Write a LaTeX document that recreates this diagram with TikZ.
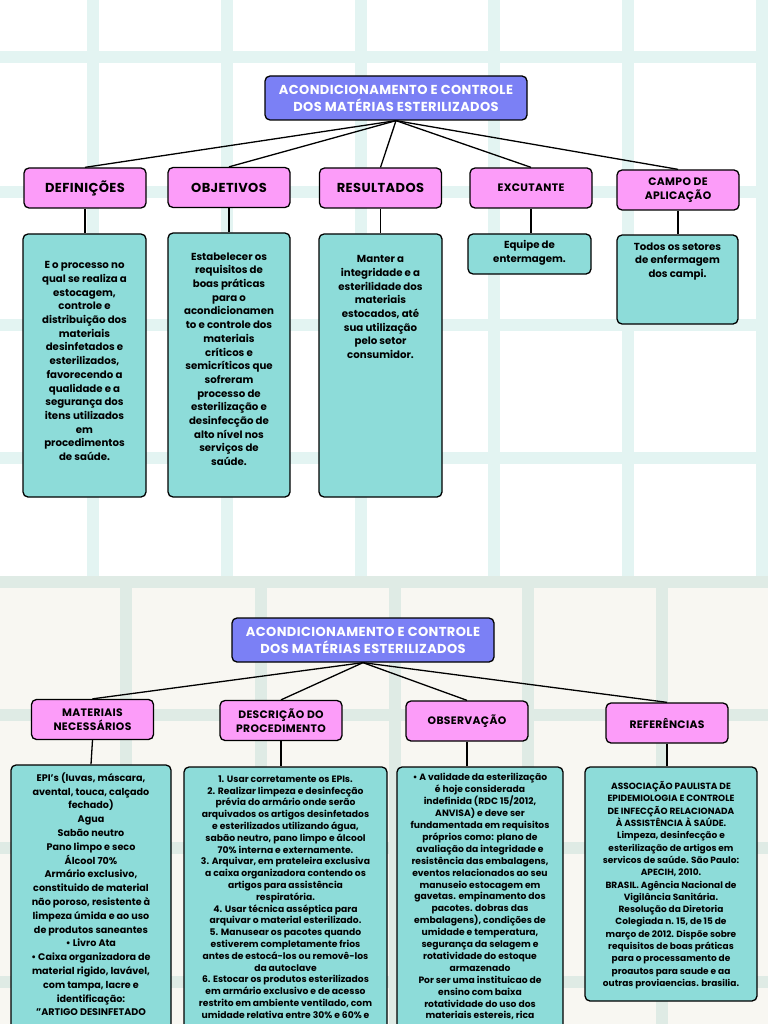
\documentclass[tikz,border=0pt]{standalone}
\usepackage{fontspec}
\setmainfont{Poppins}
\newfontfamily\headfont{Poppins}[LetterSpace=3]
\usetikzlibrary{positioning}
\definecolor{topgrid}{HTML}{E3F4F2}
\definecolor{pagecream}{HTML}{F8F7F2}
\definecolor{lowgrid}{HTML}{DFEBE5}
\definecolor{titleblue}{HTML}{7B80F5}
\definecolor{headpink}{HTML}{FC9CF9}
\definecolor{bodyteal}{HTML}{8DDCD9}

\begin{document}
\begin{tikzpicture}[x=1pt,y=-1pt,
        titlebox/.style={draw,line width=1.3pt,rounded corners=5pt,fill=titleblue,text=white,
            inner sep=0pt,align=center,minimum width=262pt,minimum height=44pt,
            font=\headfont\bfseries\fontsize{13}{17}\selectfont},
        headbox/.style={draw,line width=1.3pt,rounded corners=5pt,fill=headpink,inner sep=0pt,
            align=center,minimum width=122pt,minimum height=40pt,
            font=\headfont\bfseries\fontsize{13}{14}\selectfont},
        smallhead/.style={headbox,font=\headfont\bfseries\fontsize{10.8}{14}\selectfont},
        bodybox/.style={draw,line width=1.3pt,rounded corners=5pt,fill=bodyteal,inner sep=0pt},
        bodytext/.style={inner sep=0pt,align=center,font=\bfseries\fontsize{10.2}{13.7}\selectfont},
        link/.style={line width=1.3pt}]
        \useasboundingbox (0,0) rectangle (768,1024);
        \clip (0,0) rectangle (768,1024);
        %% Background pages
        \fill[white] (0,0) rectangle (768,576);
        \foreach \x in {93,227,361,494,628,762}
            \fill[topgrid] (\x-6,0) rectangle (\x+6,576);
        \foreach \y in {57,192,325,458}
            \fill[topgrid] (0,\y-6) rectangle (768,\y+6);
        \fill[pagecream] (0,576) rectangle (768,1024);
        \foreach \x in {126,261,395,528,662}
            \fill[lowgrid] (\x-6,576) rectangle (\x+6,1024);
        \foreach \y in {582,715,848,982}
            \fill[lowgrid] (0,\y-6) rectangle (768,\y+6);

        %% Upper map
        \node[titlebox] (maintitle) at (396,98) {ACONDICIONAMENTO E CONTROLE\\DOS MATÉRIAS ESTERILIZADOS};
        \node[headbox]   (def)   at (85,188)    {DEFINIÇÕES};
        \node[headbox]   (obj)   at (229,187.5) {OBJETIVOS};
        \node[headbox]   (res)   at (380.5,188) {RESULTADOS};
        \node[smallhead] (exc)   at (531,188)   {EXCUTANTE};
        \node[smallhead] (campo) at (678,190)   {CAMPO DE\\APLICAÇÃO};
        \foreach \n in {def,obj,res,exc,campo}
            \draw[link] (maintitle.south) -- (\n.north);

        \node[bodybox,minimum width=123pt,minimum height=263pt] (defbody)   at (84.5,365.5) {};
        \node[bodybox,minimum width=122pt,minimum height=264pt] (objbody)   at (229,365)    {};
        \node[bodybox,minimum width=123pt,minimum height=263pt] (resbody)   at (380.5,365.5) {};
        \node[bodybox,minimum width=123pt,minimum height=40pt]  (excbody)   at (529.5,254)  {};
        \node[bodybox,minimum width=121pt,minimum height=89pt]  (campobody) at (677.5,279.5) {};
        \foreach \n in {def,obj,res,exc,campo}
            \draw[link] (\n.south) -- (\n.south |- \n body.north);

        \node[bodytext,below=28pt of defbody.north] (deftext) {E o processo no\\qual se realiza a\\estocagem,\\controle e\\distribuição dos\\materiais\\desinfetados e\\esterilizados,\\favorecendo a\\qualidade e a\\segurança dos\\itens utilizados\\em\\procedimentos\\de saúde.};
        \node[bodytext,below=20pt of objbody.north] (objtext) {Estabelecer os\\requisitos de\\boas práticas\\para o\\acondicionamen\\to e controle dos\\materiais\\críticos e\\semicríticos que\\sofreram\\processo de\\esterilização e\\desinfecção de\\alto nível nos\\serviços de\\saúde.};
        \node[bodytext,below=22pt of resbody.north] (restext) {Manter a\\integridade e a\\esterilidade dos\\materiais\\estocados, até\\sua utilização\\pelo setor\\consumidor.};
        \node[bodytext,below=7pt of excbody.north] (exctext) {Equipe de\\entermagem.};
        \node[bodytext,below=8pt of campobody.north] (campotext) {Todos os setores\\de enfermagem\\dos campi.};

        %% Lower map
        \node[titlebox] (lowtitle) at (363,640) {ACONDICIONAMENTO E CONTROLE\\DOS MATÉRIAS ESTERILIZADOS};
        \node[smallhead] (mat)  at (92.5,719.5) {MATERIAIS\\NECESSÁRIOS};
        \node[smallhead] (desc) at (281,720.5)  {DESCRIÇÃO DO\\PROCEDIMENTO};
        \node[smallhead] (obs)  at (467,721)    {OBSERVAÇÃO};
        \node[smallhead] (ref)  at (667,723)    {REFERÊNCIAS};
        \foreach \n in {mat,desc,obs,ref}
            \draw[link] (lowtitle.south) -- (\n.north);

        \node[bodybox,minimum width=160pt,minimum height=280pt] (matbody)  at (91,905)    {};
        \node[bodybox,minimum width=203pt,minimum height=280pt] (descbody) at (285.5,907) {};
        \node[bodybox,minimum width=166pt,minimum height=280pt] (obsbody)  at (480,907)   {};
        \node[bodybox,minimum width=172pt,minimum height=234pt] (refbody)  at (671,884)   {};
        \draw[link] (mat.south) -- (matbody.north);
        \foreach \n in {desc,obs,ref}
            \draw[link] (\n.south) -- (\n.south |- \n body.north);

        \node[bodytext,below=8pt of matbody.north,font=\bfseries\fontsize{9.6}{13.8}\selectfont] (mattext) {EPI's (luvas, máscara,\\avental, touca, calçado\\fechado)\\Agua\\Sabão neutro\\Pano limpo e seco\\Álcool 70\%\\Armário exclusivo,\\constituido de material\\não poroso, resistente à\\limpeza úmida e ao uso\\de produtos saneantes\\• Livro Ata\\• Caixa organizadora de\\material rigido, lavável,\\com tampa, lacre e\\identificação:\\"ARTIGO DESINFETADO};
        \node[bodytext,below=9pt of descbody.north,font=\bfseries\fontsize{9.2}{11.8}\selectfont] (desctext) {1. Usar corretamente os EPIs.\\2. Realizar limpeza e desinfecção\\prévia do armário onde serão\\arquivados os artigos desinfetados\\e esterilizados utilizando água,\\sabão neutro, pano limpo e álcool\\70\% interna e externamente.\\3. Arquivar, em prateleira exclusiva\\a caixa organizadora contendo os\\artigos para assistência\\respiratória.\\4. Usar técnica asséptica para\\arquivar o material esterilizado.\\5. Manusear os pacotes quando\\estiverem completamente frios\\antes de estocá-los ou removê-los\\da autoclave\\6. Estocar os produtos esterilizados\\em armário exclusivo e de acesso\\restrito em ambiente ventilado, com\\umidade relativa entre 30\% e 60\% e};
        \node[bodytext,below=7pt of obsbody.north,font=\bfseries\fontsize{9.2}{11.9}\selectfont] (obstext) {• A validade da esterilização\\é hoje considerada\\indefinida (RDC 15/2012,\\ANVISA) e deve ser\\fundamentada em requisitos\\próprios como: plano de\\avaliação da integridade e\\resistência das embalagens,\\eventos relacionados ao seu\\manuseio estocagem em\\gavetas. empinamento dos\\pacotes. dobras das\\embalagens), condições de\\umidade e temperatura,\\segurança da selagem e\\rotatividade do estoque\\armazenado\\Por ser uma instituicao de\\ensino com baixa\\rotatividade do uso dos\\materiais estereis, rica};
        \node[bodytext,below=15pt of refbody.north,font=\bfseries\fontsize{9}{12.3}\selectfont] (reftext) {ASSOCIAÇÃO PAULISTA DE\\EPIDEMIOLOGIA E CONTROLE\\DE INFECÇÃO RELACIONADA\\À ASSISTÊNCIA À SAÚDE.\\Limpeza, desinfecção e\\esterilização de artigos em\\servicos de saúde. São Paulo:\\APECIH, 2010.\\BRASIL. Agência Nacional de\\Vigilância Sanitária.\\Resolução da Diretoria\\Colegiada n. 15, de 15 de\\março de 2012. Dispõe sobre\\requisitos de boas práticas\\para o processamento de\\proautos para saude e aa\\outras proviaencias. brasilia.};
    \end{tikzpicture}
\end{document}
